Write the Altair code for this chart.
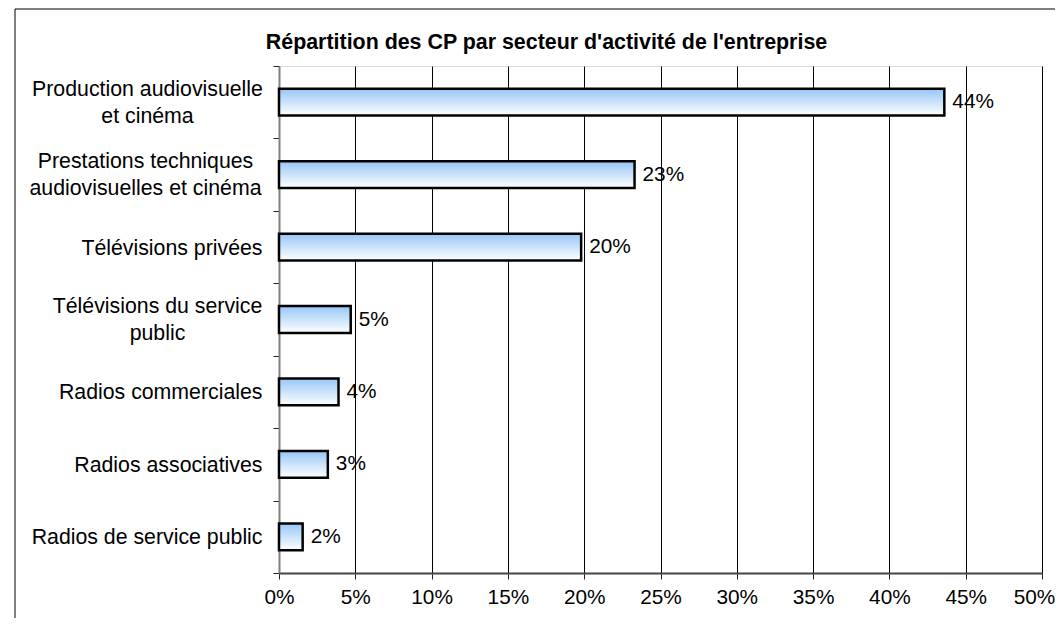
import altair as alt
import pandas as pd

categories = [
    "Production audiovisuelle\net cinéma",
    "Prestations techniques\naudiovisuelles et cinéma",
    "Télévisions privées",
    "Télévisions du service\npublic",
    "Radios commerciales",
    "Radios associatives",
    "Radios de service public",
]
shares = [0.436, 0.233, 0.198, 0.047, 0.039, 0.032, 0.0155]
x_ticks = [0, 0.05, 0.10, 0.15, 0.20, 0.25, 0.30, 0.35, 0.40, 0.45, 0.50]
title_text = "Répartition des CP par secteur d'activité de l'entreprise"

df = pd.DataFrame({"category": categories, "share": shares})

FONT = "Liberation Sans"


def js(s):
    return "'" + s.replace("\n", "\\n").replace("'", "\\'") + "'"


gradient = alt.Gradient(
    gradient="linear",
    stops=[
        alt.GradientStop(color="#97c6f6", offset=0),
        alt.GradientStop(color="#ffffff", offset=1),
    ],
    x1=0, x2=0, y1=0, y2=1,
)

multi_test = " || ".join("datum.value == " + js(c) for c in categories if "\n" in c)

y_axis = alt.Axis(
    title=None,
    grid=False,
    domainColor="#7f7f7f",
    domainWidth=2,
    tickColor="#222222",
    tickSize=6,
    tickWidth=1,
    tickBand="extent",
    labelFont=FONT,
    labelFontSize=21.3,
    labelColor="black",
    labelLineHeight=27,
    labelLimit=400,
    labelExpr="split(datum.label, '\\n')",
    labelAlign={
        "condition": {"test": multi_test, "value": "center"},
        "value": "right",
    },
    labelOffset={
        "condition": {"test": multi_test, "value": -13},
        "value": 1,
    },
    labelPadding={
        "condition": [
            {"test": "datum.value == " + js(categories[0]), "value": 126},
            {"test": "datum.value == " + js(categories[1]), "value": 128},
            {"test": "datum.value == " + js(categories[3]), "value": 116},
        ],
        "value": 11,
    },
)

x_axis = alt.Axis(
    title=None,
    values=x_ticks,
    format=".0%",
    grid=True,
    gridColor="black",
    gridWidth=1,
    domainColor="#444444",
    domainWidth=2,
    tickColor="#222222",
    tickSize=6,
    tickWidth=1,
    labelFont=FONT,
    labelFontSize=20.8,
    labelColor="black",
    labelPadding=8,
    labelFlush=False,
    labelOverlap=False,
    labelOffset={"condition": {"test": "datum.value >= 0.5", "value": -8}, "value": 0},
)

y_enc = alt.Y(
    "category:N",
    sort=categories,
    scale=alt.Scale(paddingInner=0, paddingOuter=0),
    axis=y_axis,
)
x_enc = alt.X("share:Q", scale=alt.Scale(domain=[0, 0.5]), axis=x_axis)

frame = alt.Chart(pd.DataFrame({"k": [0]})).mark_rect(
    fill="transparent", stroke="black", strokeWidth=1
).encode(
    x=alt.value(-264), x2=alt.value(1200), y=alt.value(-57), y2=alt.value(900)
)

bars = alt.Chart(df).mark_bar(
    height={"band": 0.37},
    fill=gradient,
    stroke="black",
    strokeWidth=2.5,
).encode(x=x_enc, y=y_enc)

labels = alt.Chart(df).mark_text(
    align="left", baseline="middle", dx=8, font=FONT, fontSize=20.8, color="black"
).encode(
    x=alt.X("share:Q"),
    y=alt.Y("category:N", sort=categories),
    text=alt.Text("share:Q", format=".0%"),
)

chart = alt.layer(frame, bars, labels).properties(
    width=763,
    height=507,
    title=alt.TitleParams(
        text=title_text,
        font=FONT,
        fontSize=21.4,
        fontWeight="bold",
        color="black",
        anchor="middle",
        frame="group",
        baseline="alphabetic",
        dx=-114,
        dy=62,
        offset=0,
    ),
    autosize=alt.AutoSizeParams(type="none"),
    padding={"left": 271, "top": 58, "right": 13, "bottom": 45},
).configure_view(stroke="#808080", strokeWidth=2).configure(background="white")

chart.save("out.html", embed_options={"renderer": "svg", "actions": False})
